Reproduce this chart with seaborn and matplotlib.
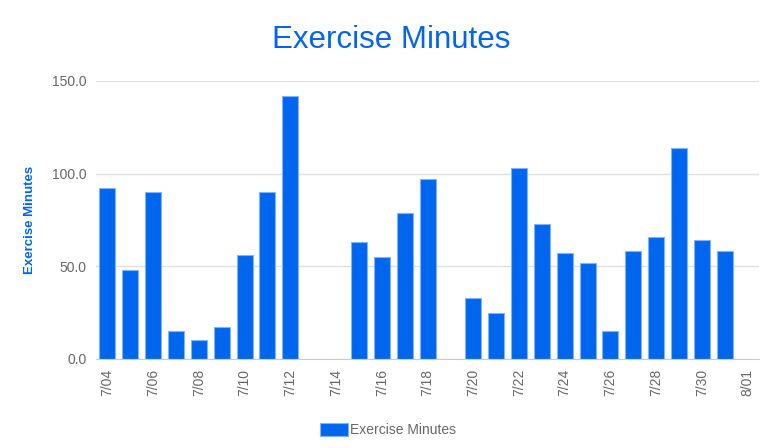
import numpy as np
import pandas as pd
import matplotlib
matplotlib.use("Agg")
import matplotlib.pyplot as plt
import seaborn as sns

# ─────────────────────────────
#  DATA
# ─────────────────────────────
dates = ["7/04", "7/05", "7/06", "7/07", "7/08", "7/09", "7/10", "7/11", "7/12",
         "7/13", "7/14", "7/15", "7/16", "7/17", "7/18", "7/19", "7/20", "7/21",
         "7/22", "7/23", "7/24", "7/25", "7/26", "7/27", "7/28", "7/29", "7/30",
         "7/31", "8/01"]
minutes = [92, 48, 90, 15, 10, 17, 56, 90, 142,
           None, None, 63, 55, 79, 97, None, 33, 25,
           103, 73, 57, 52, 15, 58, 66, 114, 64,
           58, None]
y_ticks = [0, 50, 100, 150]

df = pd.DataFrame({"date": dates, "minutes": minutes}).dropna()

# ─────────────────────────────
#  STYLE
# ─────────────────────────────
sns.set_style("white")
plt.rcParams['font.family'] = ['Liberation Sans', 'DejaVu Sans']

blue = '#0066ee'
grey = '#666666'

fig = plt.figure(figsize=(7.66, 4.48), dpi=100)
ax = fig.add_axes([0.1253, 0.1987, 0.8656, 0.6205])

sns.barplot(data=df, x="date", y="minutes", order=dates, color=blue,
            width=0.7, saturation=1, edgecolor='#80b3f7', linewidth=0.8,
            label="Exercise Minutes", ax=ax)

ax.set_xlim(-0.5, len(dates) - 0.5)
ax.set_ylim(0, 150)
ax.set_yticks(y_ticks)
ax.set_yticklabels([f"{v:.1f}" for v in y_ticks], color=grey, fontsize=10)
ax.set_xticks(range(0, len(dates), 2))
ax.set_xticklabels(dates[::2], rotation=90, color=grey, fontsize=10)
ax.tick_params(axis='both', length=0, pad=7)

ax.yaxis.grid(True, color='#e0e0e0', linewidth=1)
ax.set_axisbelow(True)
for side in ['top', 'right', 'left']:
    ax.spines[side].set_visible(False)
ax.spines['bottom'].set_color('#cccccc')

ax.set_xlabel("")
ax.set_ylabel("Exercise Minutes", color=blue, fontsize=9.5, fontweight='bold', labelpad=11)

fig.suptitle("Exercise Minutes", color=blue, fontsize=22.5, x=0.511, y=0.945)

if ax.legend_:
    ax.legend_.remove()
handles, labels = ax.get_legend_handles_labels()
fig.legend(handles[:1], labels[:1], loc='center', bbox_to_anchor=(0.507, 0.04),
           frameon=False, fontsize=10, labelcolor=grey, handlelength=2.0,
           handleheight=1.0, handletextpad=0.15)

plt.savefig('out.png', dpi=100, facecolor='white')
